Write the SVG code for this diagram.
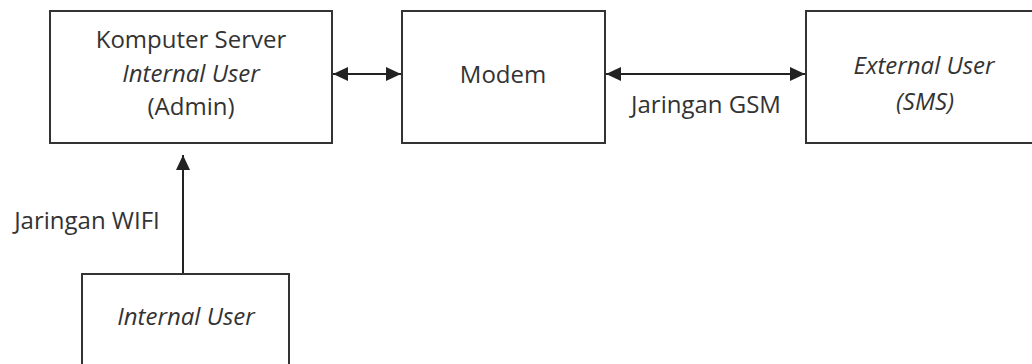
<svg xmlns="http://www.w3.org/2000/svg" width="1032" height="364" viewBox="0 0 1032 364">
<style>
.box{fill:#fff;stroke:#333;stroke-width:2}
.t{font-family:"Open Sans","Noto Sans",sans-serif;font-size:24px;fill:#333;text-anchor:middle}
.i{font-style:italic}
.c{stroke:#222;stroke-width:2;fill:none}
</style>
<defs>
<marker id="ah" viewBox="0 0 15 14" refX="15" refY="7" markerWidth="15" markerHeight="14" markerUnits="userSpaceOnUse" orient="auto-start-reverse">
<path d="M0,0 L15,7 L0,14 Z" fill="#222"/>
</marker>
</defs>
<rect width="1032" height="364" fill="#fff"/>
<g id="server">
<rect class="box" x="50" y="11" width="282" height="132"/>
<text class="t" x="191" y="48">Komputer Server</text>
<text class="t i" x="191" y="82">Internal User</text>
<text class="t" x="191" y="115">(Admin)</text>
</g>
<g id="modem">
<rect class="box" x="402" y="11" width="203" height="132"/>
<text class="t" x="503" y="83">Modem</text>
</g>
<g id="external">
<rect class="box" x="806" y="11" width="240" height="132"/>
<text class="t i" x="924" y="74">External User</text>
<text class="t i" x="925" y="110">(SMS)</text>
</g>
<g id="internal">
<rect class="box" x="82" y="274" width="207" height="100"/>
<text class="t i" x="186" y="325">Internal User</text>
</g>
<g id="connectors">
<line class="c" x1="333" y1="74" x2="401" y2="74" marker-start="url(#ah)" marker-end="url(#ah)"/>
<line class="c" x1="606" y1="74" x2="805" y2="74" marker-start="url(#ah)" marker-end="url(#ah)"/>
<line class="c" x1="183" y1="273" x2="183" y2="155" marker-end="url(#ah)"/>
<text class="t" x="706" y="113">Jaringan GSM</text>
<text class="t" x="87" y="229">Jaringan WIFI</text>
</g>
</svg>
